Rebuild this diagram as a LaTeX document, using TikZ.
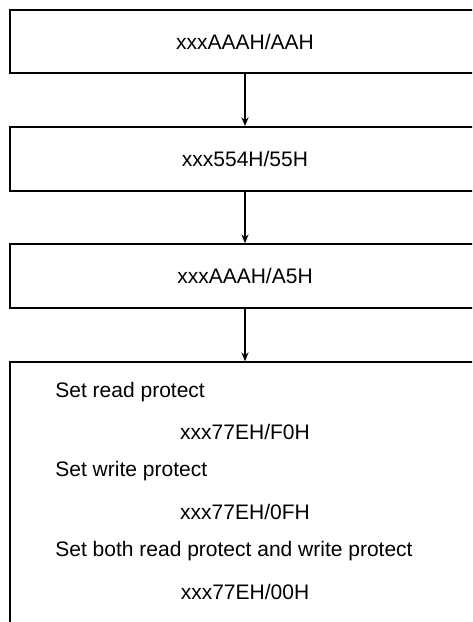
\documentclass[tikz,border=0pt]{standalone}
\usepackage{fontspec}
\setmainfont{Liberation Sans}
\usetikzlibrary{arrows.meta}

\tikzset{
  box/.style={draw, line width=1pt, minimum width=235pt, minimum height=31.7pt, inner sep=0pt,
    font=\fontsize{10.5}{12.6}\selectfont},
  flow/.style={-{Stealth[length=4.5pt, width=3.6pt, inset=1.6pt]}, line width=0.6pt},
  txt/.style={inner sep=0pt, font=\fontsize{10.5}{12.6}\selectfont}
}

\begin{document}
\begin{tikzpicture}[x=0.5pt, y=-0.5pt]
  \def\pw{472} \def\ph{622}
  \useasboundingbox (0,0) rectangle (\pw,\ph);
  \clip (0,0) rectangle (\pw,\ph);

  % command sequence
  \node[box] (first) at (245,41.7) {xxxAAAH/AAH};
  \node[box] (second) at (245,158.8) {xxx554H/55H};
  \node[box] (third) at (245,276) {xxxAAAH/A5H};

  % last box runs off the page
  \node[box, minimum height=145pt] (last) at (245,507.3) {};
  \node[txt, anchor=west] (rdtxt) at (55,392) {Set read protect};
  \node[txt] (rdcode) at (245,432) {xxx77EH/F0H};
  \node[txt, anchor=west] (wrtxt) at (55,471.5) {Set write protect};
  \node[txt] (wrcode) at (245,511.5) {xxx77EH/0FH};
  \node[txt, anchor=west] (bothtxt) at (55,551.5) {Set both read protect and write protect};
  \node[txt] (bothcode) at (245,591.5) {xxx77EH/00H};

  % arrows
  \draw[flow] (first) -- (second);
  \draw[flow] (second) -- (third);
  \draw[flow] (third) -- (last);
\end{tikzpicture}
\end{document}
